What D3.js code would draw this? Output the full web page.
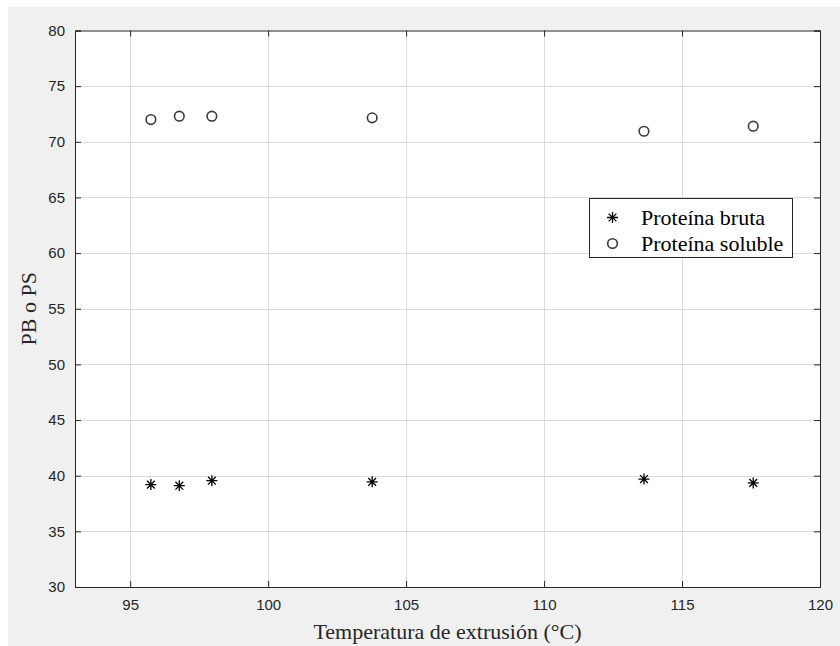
<!DOCTYPE html>
<html>
<head>
<meta charset="utf-8">
<script src="https://cdn.jsdelivr.net/npm/d3@7"></script>
<style>
  html, body { margin: 0; padding: 0; background: #ffffff; }
  svg { display: block; }
</style>
</head>
<body>
<script>
// ---- data ----
const temperatures = [95.75, 96.78, 97.96, 103.77, 113.62, 117.58];
const proteinaBruta = [39.2, 39.1, 39.55, 39.45, 39.7, 39.35];
const proteinaSoluble = [72.0, 72.3, 72.3, 72.15, 70.95, 71.4];
const xTicks = [95, 100, 105, 110, 115, 120];
const yTicks = [30, 35, 40, 45, 50, 55, 60, 65, 70, 75, 80];
const seriesNames = ["Proteína bruta", "Proteína soluble"];
const xLabel = "Temperatura de extrusión (°C)";
const yLabel = "PB o PS";

(function () {
const W = 840, H = 646;
const mL = 75, mR = 820, mT = 30.5, mB = 587;

const svg = d3.select("body").append("svg").attr("width", W).attr("height", H);
svg.append("rect").attr("x", 8).attr("y", 7).attr("width", W - 8).attr("height", H - 7).attr("fill", "#f0f0f0");

const x = d3.scaleLinear().domain([93, 120]).range([mL, mR]);
const y = d3.scaleLinear().domain([30, 80]).range([mB, mT]);

svg.append("rect").attr("x", mL).attr("y", mT).attr("width", mR - mL).attr("height", mB - mT).attr("fill", "#ffffff");

// grid
const grid = svg.append("g").attr("stroke", "#dcdcdc").attr("stroke-width", 1);
grid.selectAll(".gx").data(xTicks.filter(t => t > 93 && t < 120)).enter().append("line")
  .attr("x1", d => Math.round(x(d)) + 0.5).attr("x2", d => Math.round(x(d)) + 0.5)
  .attr("y1", mT).attr("y2", mB);
grid.selectAll(".gy").data(yTicks.filter(t => t > 30 && t < 80)).enter().append("line")
  .attr("y1", d => Math.round(y(d)) + 0.5).attr("y2", d => Math.round(y(d)) + 0.5)
  .attr("x1", mL).attr("x2", mR);

// axes
const axisColor = "#262626";
const xAxis = d3.axisBottom(x).tickValues(xTicks).tickSize(-6).tickPadding(12).tickFormat(d3.format("d"));
const gx = svg.append("g").attr("transform", `translate(0,${mB})`).call(xAxis);
const gxTop = svg.append("g").attr("transform", `translate(0,${mT})`).call(d3.axisTop(x).tickValues(xTicks).tickSize(-6).tickFormat(""));
const yAxis = d3.axisLeft(y).tickValues(yTicks).tickSize(-6).tickPadding(10).tickFormat(d3.format("d"));
const gy = svg.append("g").attr("transform", `translate(${mL},0)`).call(yAxis);
const gyR = svg.append("g").attr("transform", `translate(${mR},0)`).call(d3.axisRight(y).tickValues(yTicks).tickSize(-6).tickFormat(""));
[gx, gxTop, gy, gyR].forEach(g => {
  g.select(".domain").attr("stroke", axisColor).attr("stroke-width", 1);
  g.selectAll(".tick line").attr("stroke", axisColor);
  g.selectAll(".tick text").attr("fill", axisColor).style("font-family", "'Liberation Sans', Arial, sans-serif").style("font-size", "15px");
});

// axis labels
const serif = "'Liberation Serif', 'Times New Roman', serif";
svg.append("text").attr("x", (mL + mR) / 2).attr("y", 639).attr("text-anchor", "middle")
  .style("font-family", serif).style("font-size", "22px").attr("fill", axisColor)
  .text(xLabel);
svg.append("text").attr("transform", `translate(36,${(mT + mB) / 2}) rotate(-90)`).attr("text-anchor", "middle")
  .style("font-family", serif).style("font-size", "22px").attr("fill", axisColor)
  .text(yLabel);

// markers
const starPath = (s) => {
  const a = s * 0.7071;
  return `M${-s},0L${s},0M0,${-s}L0,${s}M${-a},${-a}L${a},${a}M${-a},${a}L${a},${-a}`;
};
const plot = svg.append("g");
plot.selectAll(".star").data(temperatures).enter().append("path")
  .attr("transform", (d, i) => `translate(${x(d)},${y(proteinaBruta[i])})`)
  .attr("d", starPath(5.5)).attr("stroke", "#000").attr("stroke-width", 1.3).attr("fill", "none");
plot.selectAll(".circ").data(temperatures).enter().append("circle")
  .attr("cx", d => x(d)).attr("cy", (d, i) => y(proteinaSoluble[i])).attr("r", 4.8)
  .attr("stroke", "#3a3a3a").attr("stroke-width", 1.6).attr("fill", "none");

// legend
const lg = svg.append("g");
lg.append("rect").attr("x", 589.5).attr("y", 198.5).attr("width", 203).attr("height", 59)
  .attr("fill", "#fff").attr("stroke", axisColor).attr("stroke-width", 1);
const ly = [217.5, 243.5];
lg.append("path").attr("transform", `translate(612.5,${ly[0]})`).attr("d", starPath(5.5))
  .attr("stroke", "#000").attr("stroke-width", 1.3).attr("fill", "none");
lg.append("circle").attr("cx", 612.5).attr("cy", ly[1]).attr("r", 4.8)
  .attr("stroke", "#3a3a3a").attr("stroke-width", 1.6).attr("fill", "none");
lg.selectAll(".lt").data(seriesNames).enter().append("text")
  .attr("x", 641).attr("y", (d, i) => ly[i] + 7)
  .style("font-family", serif).style("font-size", "22px").attr("fill", "#000")
  .text(d => d);
})();
</script>
</body>
</html>
